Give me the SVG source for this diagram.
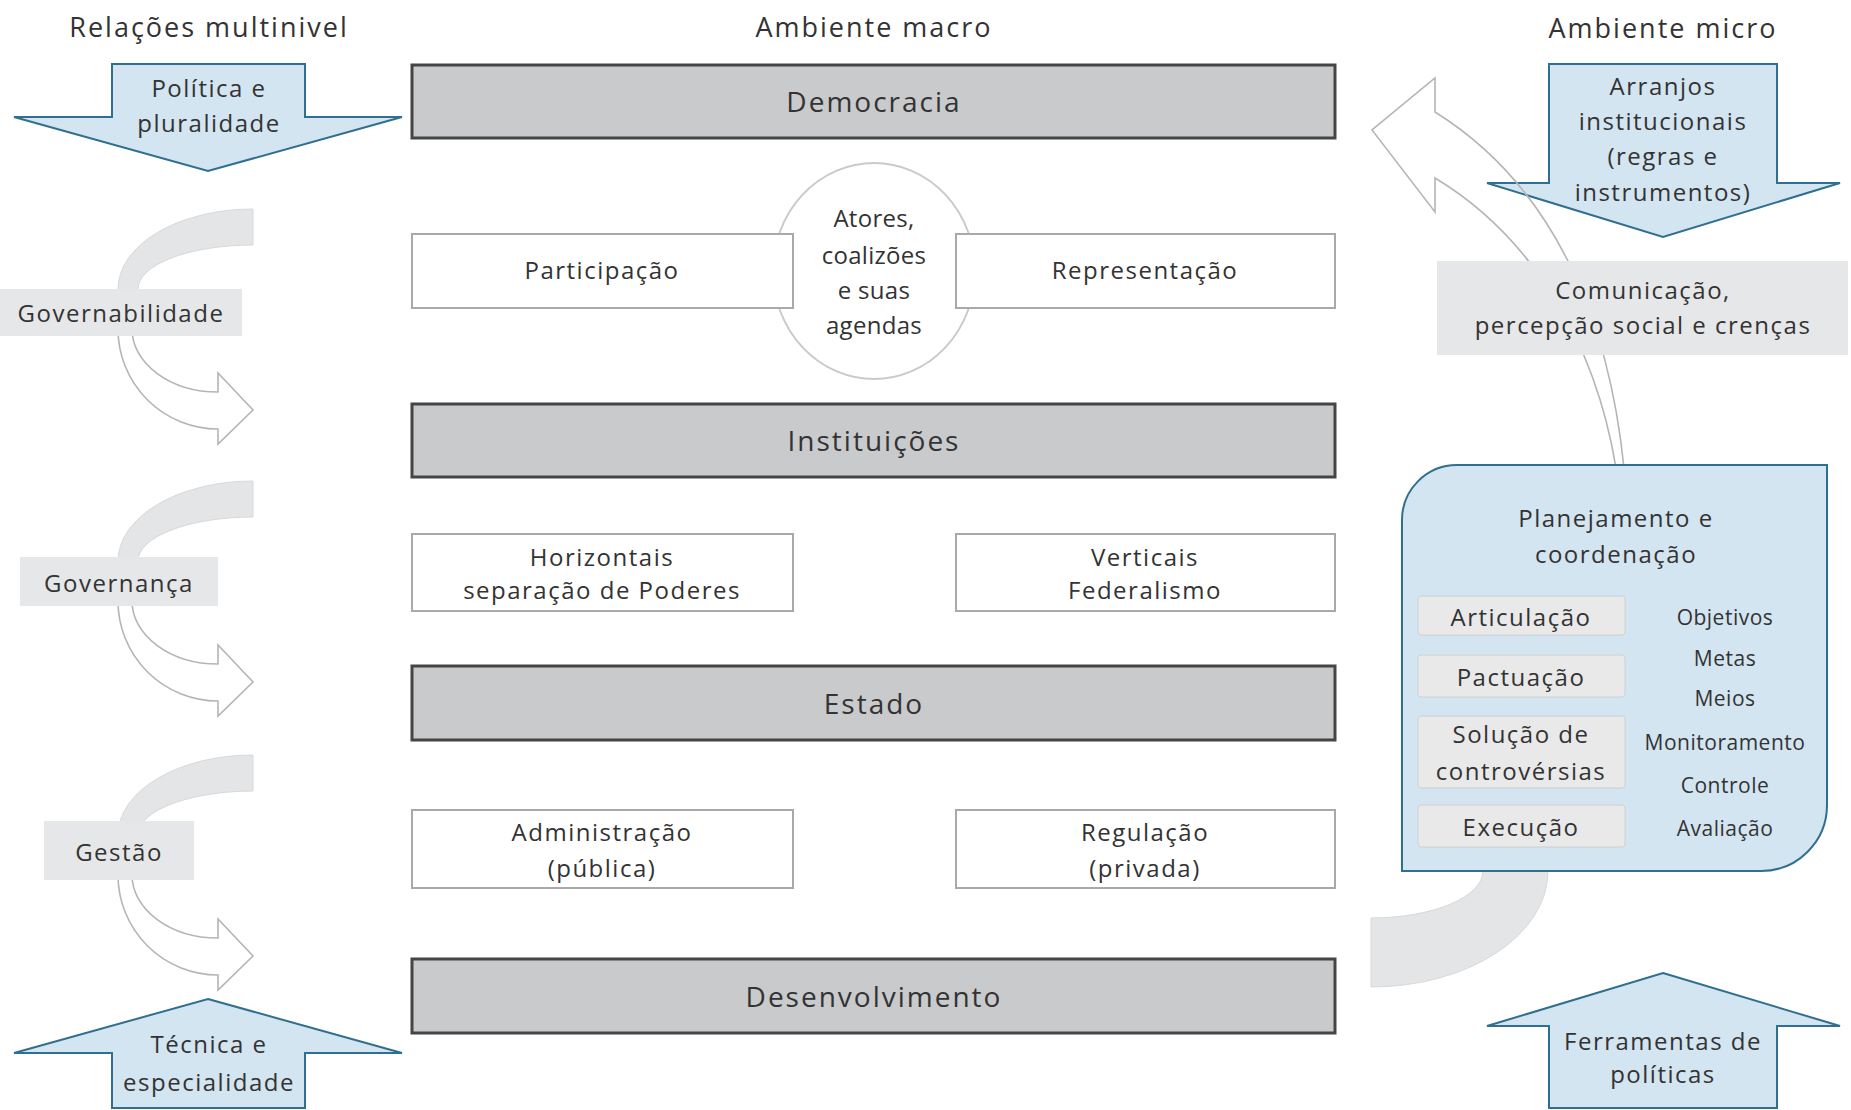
<svg xmlns="http://www.w3.org/2000/svg" width="1851" height="1110" viewBox="0 0 1851 1110">
<defs>
<style>
text { font-family: "Open Sans", "Liberation Sans", sans-serif; fill: #333333; text-anchor: middle; dominant-baseline: central; }
.t24 { font-size: 24px; letter-spacing: 1.5px; }
.ct { font-size: 24px; letter-spacing: 0.3px; }
.title { font-size: 27px; letter-spacing: 2px; }
.bar { fill: #c9cacc; stroke: #454545; stroke-width: 3; }
.bartxt { font-size: 28px; letter-spacing: 2px; }
.box { fill: #ffffff; stroke: #a9a9a9; stroke-width: 2; }
.circ { fill: #ffffff; stroke: #cacaca; stroke-width: 2; }
.blue { fill: #d3e5f1; stroke: #2f6f8f; stroke-width: 2; stroke-linejoin: miter; }
.lbl { fill: #e6e7e8; }
.band { fill: #e4e5e6; stroke: #d8d8d8; stroke-width: 1; }
.outl { fill: #ffffff; stroke: #b5b5b5; stroke-width: 1.6; stroke-linejoin: miter; }
.outl2 { fill: none; stroke: #b5b5b5; stroke-width: 1.6; stroke-linejoin: miter; }
.inner { fill: #e9e9ea; stroke: #cfd0d1; stroke-width: 1; }
.small { font-size: 21px; letter-spacing: 0.5px; }
</style>
</defs>

<g id="titles">
<text class="title" x="209" y="26">Relações multinivel</text>
<text class="title" x="874" y="26">Ambiente macro</text>
<text class="title" x="1663" y="27">Ambiente micro</text>
</g>

<g id="arrow-politica">
<path class="blue" d="M112,64 L305,64 L305,117 L402,117 L208,171 L14,117 L112,117 Z"/>
<text class="t24" x="209" y="87">Política e</text>
<text class="t24" x="209" y="122">pluralidade</text>
</g>
<g id="arrow-tecnica">
<path class="blue" d="M208,999 L402,1053 L305,1053 L305,1108 L112,1108 L112,1053 L14,1053 Z"/>
<text class="t24" x="209" y="1043">Técnica e</text>
<text class="t24" x="209" y="1081">especialidade</text>
</g>
<g id="arrow-arranjos">
<path class="blue" d="M1549,64 L1777,64 L1777,183 L1840,183 L1663,237 L1487,183 L1549,183 Z"/>
<text class="t24" x="1663" y="85">Arranjos</text>
<text class="t24" x="1663" y="120">institucionais</text>
<text class="t24" x="1663" y="155">(regras e</text>
<text class="t24" x="1663" y="191">instrumentos)</text>
</g>
<g id="arrow-ferramentas">
<path class="blue" d="M1663,973 L1840,1026 L1777,1026 L1777,1108 L1549,1108 L1549,1026 L1487,1026 Z"/>
<text class="t24" x="1663" y="1040">Ferramentas de</text>
<text class="t24" x="1663" y="1073">políticas</text>
</g>

<g id="connectors">
<g transform="translate(0,209)">
<path class="band" d="M253,0 A135 80 0 0 0 118,80 L118,100 L138,100 L138,80 A115 44 0 0 1 253,36 Z"/>
<path class="outl" d="M118,105 L118,120 A100 100 0 0 0 218,220 L218,235 L253,201 L218,164 L218,183 A86 63 0 0 1 132,120 L132,105"/>
</g>
<g transform="translate(0,481)">
<path class="band" d="M253,0 A135 80 0 0 0 118,80 L118,100 L138,100 L138,80 A115 44 0 0 1 253,36 Z"/>
<path class="outl" d="M118,105 L118,120 A100 100 0 0 0 218,220 L218,235 L253,201 L218,164 L218,183 A86 63 0 0 1 132,120 L132,105"/>
</g>
<g transform="translate(0,755)">
<path class="band" d="M253,0 A135 80 0 0 0 118,80 L118,100 L138,100 L138,80 A115 44 0 0 1 253,36 Z"/>
<path class="outl" d="M118,105 L118,120 A100 100 0 0 0 218,220 L218,235 L253,201 L218,164 L218,183 A86 63 0 0 1 132,120 L132,105"/>
</g>
<path class="outl2" d="M1624,468 C1610,330 1560,190 1435,112 L1435,78 L1372,130 L1435,212 L1435,178 C1530,235 1595,340 1616,468"/>
<path class="band" d="M1548,860 L1548,871 A177 116 0 0 1 1371,987 L1371,918 A112 47 0 0 0 1483,871 L1483,860 Z"/>
</g>

<g id="lbl-governabilidade">
<rect class="lbl" x="0" y="289" width="242" height="47"/>
<text class="t24" x="121" y="312">Governabilidade</text>
</g>
<g id="lbl-governanca">
<rect class="lbl" x="20" y="557" width="198" height="49"/>
<text class="t24" x="119" y="582">Governança</text>
</g>
<g id="lbl-gestao">
<rect class="lbl" x="44" y="821" width="150" height="59"/>
<text class="t24" x="119" y="851">Gestão</text>
</g>

<g id="democracia">
<rect class="bar" x="412" y="65" width="923" height="73"/>
<text class="bartxt" x="874" y="101">Democracia</text>
</g>
<g id="atores">
<ellipse class="circ" cx="874" cy="271" rx="101" ry="108"/>
</g>
<g id="participacao">
<rect class="box" x="412" y="234" width="381" height="74"/>
<text class="t24" x="602" y="269">Participação</text>
</g>
<g id="representacao">
<rect class="box" x="956" y="234" width="379" height="74"/>
<text class="t24" x="1145" y="269">Representação</text>
</g>
<g id="atores-text">
<text class="ct" x="874" y="217">Atores,</text>
<text class="ct" x="874" y="254">coalizões</text>
<text class="ct" x="874" y="289">e suas</text>
<text class="ct" x="874" y="324">agendas</text>
</g>
<g id="instituicoes">
<rect class="bar" x="412" y="404" width="923" height="73"/>
<text class="bartxt" x="874" y="440">Instituições</text>
</g>
<g id="horizontais">
<rect class="box" x="412" y="534" width="381" height="77"/>
<text class="t24" x="602" y="556">Horizontais</text>
<text class="t24" x="602" y="589">separação de Poderes</text>
</g>
<g id="verticais">
<rect class="box" x="956" y="534" width="379" height="77"/>
<text class="t24" x="1145" y="556">Verticais</text>
<text class="t24" x="1145" y="589">Federalismo</text>
</g>
<g id="estado">
<rect class="bar" x="412" y="666" width="923" height="74"/>
<text class="bartxt" x="874" y="703">Estado</text>
</g>
<g id="administracao">
<rect class="box" x="412" y="810" width="381" height="78"/>
<text class="t24" x="602" y="831">Administração</text>
<text class="t24" x="602" y="867">(pública)</text>
</g>
<g id="regulacao">
<rect class="box" x="956" y="810" width="379" height="78"/>
<text class="t24" x="1145" y="831">Regulação</text>
<text class="t24" x="1145" y="867">(privada)</text>
</g>
<g id="desenvolvimento">
<rect class="bar" x="412" y="959" width="923" height="74"/>
<text class="bartxt" x="874" y="996">Desenvolvimento</text>
</g>

<g id="comunicacao">
<rect class="lbl" x="1437" y="261" width="411" height="94"/>
<text class="t24" x="1643" y="289">Comunicação,</text>
<text class="t24" x="1643" y="324">percepção social e crenças</text>
</g>

<g id="planejamento">
<path class="blue" d="M1457,465 L1827,465 L1827,805 A66 66 0 0 1 1761,871 L1402,871 L1402,520 A55 55 0 0 1 1457,465 Z"/>
<text class="t24" x="1616" y="517">Planejamento e</text>
<text class="t24" x="1616" y="553">coordenação</text>
<rect class="inner" x="1418" y="596" width="207" height="39" rx="3"/>
<text class="t24" x="1521" y="616">Articulação</text>
<rect class="inner" x="1418" y="655" width="207" height="42" rx="3"/>
<text class="t24" x="1521" y="676">Pactuação</text>
<rect class="inner" x="1418" y="716" width="207" height="72" rx="3"/>
<text class="t24" x="1521" y="733">Solução de</text>
<text class="t24" x="1521" y="770">controvérsias</text>
<rect class="inner" x="1418" y="805" width="207" height="42" rx="3"/>
<text class="t24" x="1521" y="826">Execução</text>
<text class="small" x="1725" y="617">Objetivos</text>
<text class="small" x="1725" y="658">Metas</text>
<text class="small" x="1725" y="698">Meios</text>
<text class="small" x="1725" y="742">Monitoramento</text>
<text class="small" x="1725" y="785">Controle</text>
<text class="small" x="1725" y="828">Avaliação</text>
</g>
</svg>
